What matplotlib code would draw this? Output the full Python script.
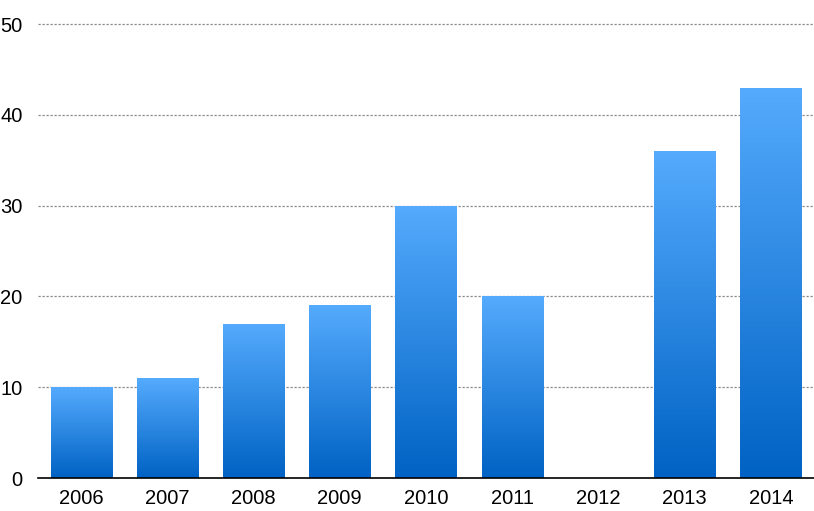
import numpy as np
import matplotlib.pyplot as plt
from matplotlib.colors import LinearSegmentedColormap

# Data
years = ['2006', '2007', '2008', '2009', '2010', '2011', '2012', '2013', '2014']
values = [10, 11, 17, 19, 30, 20, 0, 36, 43]
yticks = [0, 10, 20, 30, 40, 50]

plt.rcParams['font.family'] = ['Liberation Sans', 'DejaVu Sans']

fig = plt.figure(figsize=(8.14, 5.11), dpi=100)
ax = fig.add_axes([38/814, 33/511, 776/814, 478/511])

x = np.arange(len(years))
bars = ax.bar(x, values, width=0.71, color='none', edgecolor='none', zorder=3)

# vertical gradient inside each bar, light at top, dark at bottom
cmap = LinearSegmentedColormap.from_list('blu', ['#0062C4', '#55ABFD'])
grad = np.linspace(0, 1, 256).reshape(-1, 1)
for b in bars:
    h = b.get_height()
    if h <= 0:
        continue
    x0 = b.get_x()
    w = b.get_width()
    im = ax.imshow(grad, cmap=cmap, origin='lower', aspect='auto',
                   extent=[x0, x0 + w, 0, h], zorder=3, interpolation='bicubic')
    im.set_clip_path(b)

ax.set_xlim(-0.5, len(years) - 0.5)
ax.set_ylim(0, 50 * 478 / 454)
ax.set_xticks(x)
ax.set_xticklabels(years)
ax.set_yticks(yticks)

# dotted gridlines behind bars
for yv in yticks[1:]:
    ax.axhline(yv, color='#8a8a8a', linestyle=(0, (1.8, 1.4)), linewidth=0.9, zorder=1)

for s in ['top', 'right', 'left']:
    ax.spines[s].set_visible(False)
ax.spines['bottom'].set_color('black')
ax.spines['bottom'].set_linewidth(1.2)
ax.spines['bottom'].set_zorder(4)

ax.tick_params(axis='both', length=0, labelsize=14.5, colors='black')
ax.tick_params(axis='y', pad=11)
ax.tick_params(axis='x', pad=8)

fig.savefig('out.png', dpi=100)
